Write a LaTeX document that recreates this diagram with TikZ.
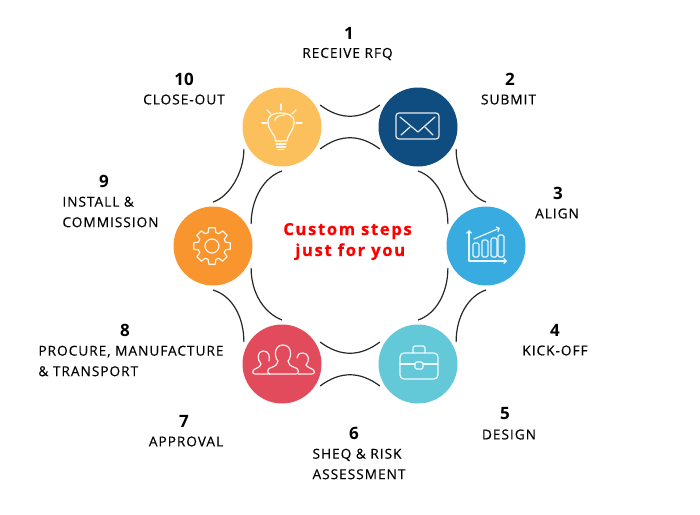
\documentclass[tikz,border=0pt]{standalone}
\usepackage{fontspec}
\setmainfont{Open Sans}
\newfontfamily\labelfont[LetterSpace=7,FakeBold=0.25]{Open Sans}
\newfontfamily\middlefont[LetterSpace=10,BoldFeatures={FakeBold=0.6}]{Open Sans}
\usetikzlibrary{arrows.meta}
\definecolor{bulbcolor}{HTML}{FBC05C}
\definecolor{envelopecolor}{HTML}{0F4C7F}
\definecolor{chartcolor}{HTML}{38ACE0}
\definecolor{casecolor}{HTML}{63C9D9}
\definecolor{peoplecolor}{HTML}{E24B5B}
\definecolor{gearcolor}{HTML}{F9952E}
\tikzset{
  stepcircle/.style={circle, minimum size=79pt, inner sep=0pt, outer sep=4.5pt},
  link/.style={draw=black!85, line width=1.2pt},
  iconline/.style={draw=white!90!#1, line width=1.2pt, line join=round, line cap=round},
  stepnum/.style={font=\bfseries\fontsize{17}{17}\selectfont, text=black},
  steptext/.style={font=\labelfont\fontsize{13.7}{20.5}\selectfont, text=black, align=left, inner sep=0pt}
}

\begin{document}
\begin{tikzpicture}[x=1pt, y=-1pt]
      \useasboundingbox (0,0) rectangle (700,514);

      % Circles
      \node[stepcircle, fill=bulbcolor] (bulb) at (282,127) {};
      \node[stepcircle, fill=envelopecolor] (envelope) at (418,127) {};
      \node[stepcircle, fill=chartcolor] (chart) at (486,246) {};
      \node[stepcircle, fill=casecolor] (case) at (418,364) {};
      \node[stepcircle, fill=peoplecolor] (people) at (282,364) {};
      \node[stepcircle, fill=gearcolor] (gear) at (213,246) {};

      % Links
      \draw[link] (bulb.30) .. controls +(20,15) and +(-20,15) .. (envelope.150);
      \draw[link] (bulb.-30) .. controls +(20,-15) and +(-20,-15) .. (envelope.-150);
      \draw[link] (envelope.-30) .. controls +(0,24) and +(-16,-5) .. (chart.90);
      \draw[link] (envelope.-90) .. controls +(18,6) and +(0,-25) .. (chart.150);
      \draw[link] (case.30) .. controls +(0,-25) and +(-18,6) .. (chart.-90);
      \draw[link] (case.90) .. controls +(18,-6) and +(0,25) .. (chart.-150);
      \draw[link] (people.30) .. controls +(20,15) and +(-20,15) .. (case.150);
      \draw[link] (people.-30) .. controls +(20,-15) and +(-20,-15) .. (case.-150);
      \draw[link] (gear.-90) .. controls +(20,6) and +(0,-24) .. (people.150);
      \draw[link] (gear.-30) .. controls +(0,25) and +(-18,-7) .. (people.90);
      \draw[link] (bulb.-150) .. controls +(0,24) and +(16,-5) .. (gear.90);
      \draw[link] (bulb.-90) .. controls +(-18,6) and +(0,-25) .. (gear.30);

      % Bulb
      \draw[iconline=bulbcolor] (275.5,141) .. controls (275,133) and (268,131) .. (268,122)
        .. controls (268,114) and (275,113) .. (281,113)
        .. controls (287,113) and (294,115) .. (294,122)
        .. controls (294,131) and (288,133) .. (287,141) -- cycle;
      \draw[iconline=bulbcolor] (275,120) .. controls (276,117) and (279,115) .. (285,115);
      \foreach \xa/\ya/\xb/\yb in {276/144/286/144, 276.5/147/285.5/147, 278/149.5/284/149.5,
          281/104/281/110, 267/110/271/114, 296/110/292/114, 262/123/267/123, 296/123/302/123}
        \draw[iconline=bulbcolor] (\xa,\ya) -- (\xb,\yb);

      % Envelope
      \draw[iconline=envelopecolor, rounded corners=3pt] (396,113) rectangle (439,139);
      \draw[iconline=envelopecolor] (400,117) -- (418,132) -- (435,117);
      \draw[iconline=envelopecolor] (401,135) -- (410,127);
      \draw[iconline=envelopecolor] (433,135) -- (425,127);

      % Chart
      \draw[iconline=chartcolor, {Straight Barb[length=2.5pt]}-{Straight Barb[length=2.5pt]}] (469,230) -- (469,261) -- (507,261);
      \draw[iconline=chartcolor, -{Straight Barb[length=2.5pt]}] (474,239) -- (500,228);
      \foreach \xa/\xb/\ya in {473/479/243, 482/488/240, 491/497/238, 498/504/235}
        \draw[iconline=chartcolor, rounded corners=1.5pt] (\xa,\ya) rectangle (\xb,257);

      % Case
      \draw[iconline=casecolor, rounded corners=4pt] (400,353) rectangle (438,379);
      \draw[iconline=casecolor, rounded corners=2pt] (413,353) -- (413,346) -- (425,346) -- (425,353);
      \draw[iconline=casecolor] (400,364) -- (415,364);
      \draw[iconline=casecolor] (423,364) -- (438,364);
      \draw[iconline=casecolor, rounded corners=1.5pt] (415,362) rectangle (423,369);

      % People
      \draw[iconline=peoplecolor] (270,374) -- (296,374) .. controls (299,374) and (299,369) .. (296,368)
        .. controls (290,366) and (288,364) .. (288,361)
        .. controls (292,357) and (292,345) .. (283,345)
        .. controls (274,345) and (274,357) .. (278,361)
        .. controls (278,364) and (276,366) .. (270,368)
        .. controls (267,369) and (267,374) .. (270,374) -- cycle;
      \draw[iconline=peoplecolor] (270,374) -- (255,374) .. controls (252,374) and (252,370) .. (255,369)
        .. controls (259,367) and (261,366) .. (261,364)
        .. controls (257,360) and (257,351) .. (263,351)
        .. controls (269,351) and (270,356) .. (269,361);
      \draw[iconline=peoplecolor] (298,374) -- (312,374) .. controls (315,374) and (315,370) .. (312,369)
        .. controls (308,367) and (306,366) .. (306,365)
        .. controls (310,361) and (309,353) .. (303,353)
        .. controls (299,353) and (297,355) .. (297,358);

      % Gear
      \draw[iconline=gearcolor] (212,246) circle (7);
      \draw[iconline=gearcolor, shift={(212,246)}] (-10:18.5)
        \foreach \a in {0,45,...,315} { -- (\a-10:18.5) -- (\a+10:18.5) -- (\a+16:14) -- (\a+29:14) } -- cycle;

      % Numbers
      \node[stepnum] (num1) at (349,33) {1};
      \node[stepnum] (num2) at (510,79) {2};
      \node[stepnum] (num3) at (558,193) {3};
      \node[stepnum] (num4) at (555,330) {4};
      \node[stepnum] (num5) at (505,414) {5};
      \node[stepnum] (num6) at (354,433) {6};
      \node[stepnum] (num7) at (184,421) {7};
      \node[stepnum] (num8) at (125,330) {8};
      \node[stepnum] (num9) at (104,181) {9};
      \node[stepnum] (num10) at (184,79) {10};

      % Step names
      \node[steptext] (text1) at (347.5,54) {RECEIVE RFQ};
      \node[steptext] (text2) at (508.5,99.5) {SUBMIT};
      \node[steptext] (text3) at (557,213.5) {ALIGN};
      \node[steptext] (text4) at (555,350.5) {KICK-OFF};
      \node[steptext] (text5) at (509,434.5) {DESIGN};
      \node[steptext] (text6) at (359,464) {SHEQ \& RISK\\ASSESSMENT};
      \node[steptext] (text7) at (186,441.5) {APPROVAL};
      \node[steptext] (text8) at (131,361) {PROCURE, MANUFACTURE\\\& TRANSPORT};
      \node[steptext] (text9) at (110.5,212) {INSTALL \&\\COMMISSION};
      \node[steptext] (text10) at (184,99.5) {CLOSE-OUT};

      % Middle
      \node[font=\middlefont\bfseries\fontsize{16.6}{21}\selectfont, text=red, align=left, inner sep=0pt] (middle) at (347.5,241.5) {Custom steps\\\hspace{12pt}just for you};
\end{tikzpicture}
\end{document}
